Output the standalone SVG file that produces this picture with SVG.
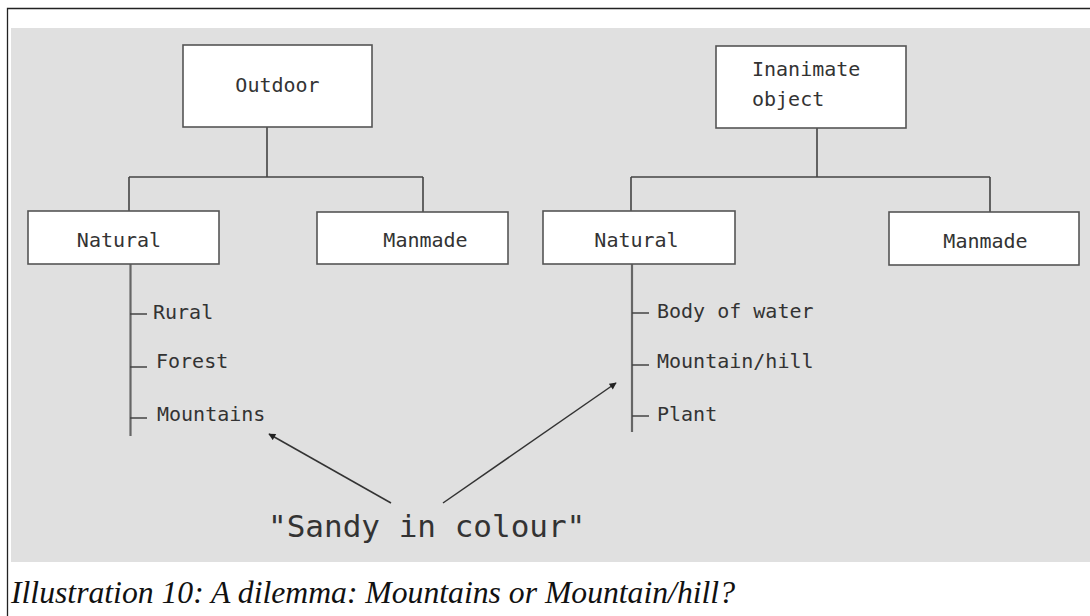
<svg xmlns="http://www.w3.org/2000/svg" width="1090" height="616" viewBox="0 0 1090 616">
<defs>
<style>
.box{fill:#fff;stroke:#555;stroke-width:1.6}
.lbl{font-family:"DejaVu Sans Mono","Liberation Mono",monospace;font-size:20px;fill:#333}
.mid{text-anchor:middle}
.conn{fill:none;stroke:#444;stroke-width:1.6}
.tree{fill:none;stroke:#666;stroke-width:2.2}
.tick{fill:none;stroke:#444;stroke-width:1.4}
.arrow{fill:none;stroke:#333;stroke-width:1.5;marker-end:url(#ah)}
</style>
<marker id="ah" viewBox="0 0 10 10" refX="9" refY="5" markerWidth="8" markerHeight="7" markerUnits="userSpaceOnUse" orient="auto">
<path d="M0,0 L10,5 L0,10 z" fill="#222"/>
</marker>
</defs>
<rect x="0" y="0" width="1090" height="616" fill="#fff"/>
<path d="M7.5 616 V8.5 H1090" fill="none" stroke="#222" stroke-width="1.3"/>
<rect x="11" y="28" width="1079" height="534" fill="#e0e0e0"/>

<g id="connectors">
<path class="conn" d="M267 127 V177 M129 177 H423 M129 177 V211 M423 177 V212"/>
<path class="conn" d="M817 128 V177 M631 177 H990 M631 177 V211 M990 177 V212"/>
<path class="tree" d="M130.5 264 V436"/>
<path class="tick" d="M130 314 H147 M130 367 H147 M130 418 H147"/>
<path class="tree" d="M632 264 V432"/>
<path class="tick" d="M632 313 H649 M632 365 H649 M632 416 H649"/>
<path class="arrow" d="M391 503 L269 434"/>
<path class="arrow" d="M443 503 L616 383"/>
</g>

<g id="outdoor">
<rect class="box" x="183" y="45" width="189" height="82"/>
<text class="lbl mid" x="277.5" y="92">Outdoor</text>
</g>
<g id="inanimate">
<rect class="box" x="716" y="46" width="190" height="82"/>
<text class="lbl" x="752" y="76">Inanimate</text>
<text class="lbl" x="752" y="106">object</text>
</g>
<g id="natural-left">
<rect class="box" x="28" y="211" width="191" height="53"/>
<text class="lbl mid" x="119" y="247">Natural</text>
</g>
<g id="manmade-left">
<rect class="box" x="317" y="212" width="191" height="52"/>
<text class="lbl mid" x="425.5" y="247">Manmade</text>
</g>
<g id="natural-right">
<rect class="box" x="543" y="211" width="192" height="53"/>
<text class="lbl mid" x="636.5" y="247">Natural</text>
</g>
<g id="manmade-right">
<rect class="box" x="889" y="212" width="190" height="53"/>
<text class="lbl mid" x="985.5" y="248">Manmade</text>
</g>

<g id="leaves-left">
<text class="lbl" x="153" y="319">Rural</text>
<text class="lbl" x="156" y="368">Forest</text>
<text class="lbl" x="157" y="421">Mountains</text>
</g>
<g id="leaves-right">
<text class="lbl" x="657" y="318">Body of water</text>
<text class="lbl" x="657" y="368">Mountain/hill</text>
<text class="lbl" x="657" y="421">Plant</text>
</g>

<g id="note">
<text x="268" y="537" font-family="DejaVu Sans Mono, Liberation Mono, monospace" font-size="31" fill="#333">"Sandy in colour"</text>
</g>

<text x="11" y="603" font-family="Liberation Serif, serif" font-style="italic" font-size="32" fill="#111" textLength="724" lengthAdjust="spacingAndGlyphs">Illustration 10: A dilemma: Mountains or Mountain/hill?</text>
</svg>
